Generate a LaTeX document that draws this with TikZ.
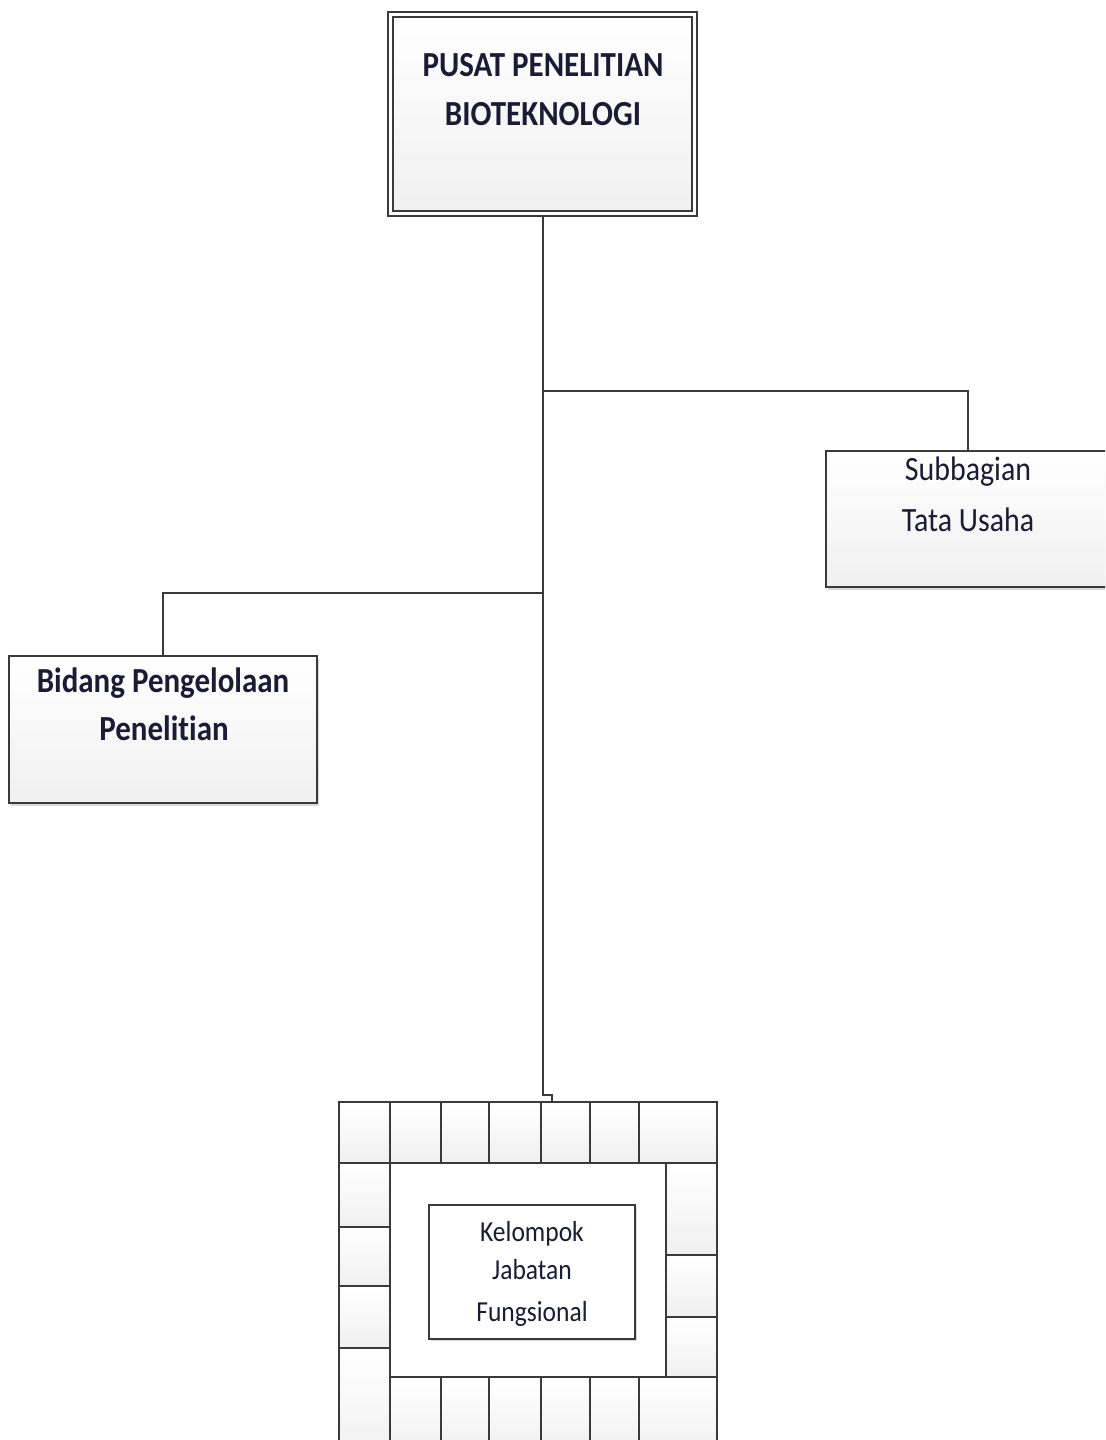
\documentclass[tikz,border=0pt]{standalone}
\usepackage{fontspec}
\setmainfont{Carlito}
% slightly condensed face for all labels, without the ti/ft ligatures
\newfontfamily\labelfont[FakeStretch=0.88, Ligatures=NoCommon]{Carlito}
\usetikzlibrary{shadows}
\definecolor{ink}{HTML}{1B1B33}
\definecolor{edge}{HTML}{3A3A3A}
\definecolor{shade}{HTML}{F0F0F0}

\begin{document}
\begin{tikzpicture}[x=0.5pt,y=-0.5pt,
  unitbox/.style={draw=edge, line width=1pt, top color=white, bottom color=shade,
    inner sep=0pt,
    drop shadow={shadow xshift=1.2pt, shadow yshift=-1.6pt, fill=black, opacity=0.15}},
  headbox/.style={unitbox, line width=1pt, double=white, double distance=1.6pt},
  tile/.style={draw=edge, line width=1pt, top color=white, bottom color=shade},
  link/.style={draw=edge, line width=1pt},
  bigbold/.style={font=\labelfont\fontsize{17.6}{20}\selectfont\bfseries, text=ink, anchor=base, inner sep=0pt},
  plain/.style={font=\labelfont\fontsize{17}{20}\selectfont, text=ink, anchor=base, inner sep=0pt},
  small/.style={font=\labelfont\fontsize{14.5}{17}\selectfont, text=ink, anchor=base, inner sep=0pt}]

\useasboundingbox (0,0) rectangle (1105,1440);
\clip (0,0) rectangle (1105,1440);

% head of the centre
\node[headbox, minimum width=152pt, minimum height=99.5pt] (head) at (542.5,114) {};
\node[bigbold] (headA) at (543,76) {PUSAT PENELITIAN};
\node[bigbold] (headB) at (543,125) {BIOTEKNOLOGI};

% administration unit
\node[unitbox, minimum width=142pt, minimum height=68pt] (sub) at (968,519) {};
\node[plain] (subA) at (968,480) {Subbagian};
\node[plain] (subB) at (968,531) {Tata Usaha};

% research management division
\node[unitbox, minimum width=154pt, minimum height=73.5pt] (bid) at (163,729.5) {};
\node[bigbold] (bidA) at (163,692.5) {Bidang Pengelolaan};
\node[bigbold] (bidB) at (164,740) {Penelitian};

% functional groups: tiled frame
\node[draw=edge, line width=1pt, fill=white, minimum width=189pt, minimum height=179pt,
      anchor=north, inner sep=0pt] (frame) at (528,1102) {};
\foreach \a/\b in {339/390,390/441,441/489,489/541,541/590,590/639,639/717}
  \path[tile] (\a,1102) rectangle (\b,1163);
\foreach \a/\b in {1163/1227,1227/1286,1286/1348,1348/1460}
  \path[tile] (339,\a) rectangle (390,\b);
\foreach \a/\b in {1163/1255,1255/1317,1317/1377}
  \path[tile] (666,\a) rectangle (717,\b);
\foreach \a/\b in {390/441,441/489,489/541,541/590,590/639,639/717}
  \path[tile] (\a,1377) rectangle (\b,1460);
\path[draw=edge, line width=1pt, fill=white] (390,1163) rectangle (666,1377);

\node[draw=edge, line width=1pt, fill=white, inner sep=0pt,
      minimum width=103pt, minimum height=67pt,
      drop shadow={shadow xshift=1pt, shadow yshift=-1.2pt, fill=black, opacity=0.15}] (jf) at (532,1272) {};
\node[small] (jfA) at (532,1241.5) {Kelompok};
\node[small] (jfB) at (532,1279.5) {Jabatan};
\node[small] (jfC) at (532,1321) {Fungsional};

% connectors
\path (head.south) ++(0,176.5) coordinate (rfork);
\path (head.south) ++(0,378.5) coordinate (lfork);
\coordinate (jog) at (552,1095);
\draw[link] (head.south) -- (head.south |- jog) -- (jog) -- (jog |- frame.north);
\draw[link] (rfork) -| (sub.north);
\draw[link] (lfork) -| (bid.north);
\end{tikzpicture}
\end{document}
